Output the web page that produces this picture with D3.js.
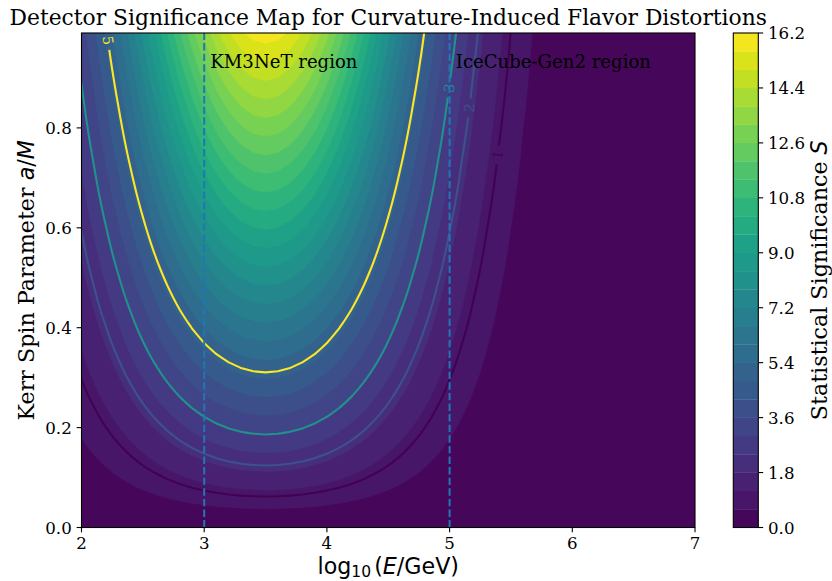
<!DOCTYPE html>
<html><head><meta charset="utf-8">
<script src="https://cdn.jsdelivr.net/npm/d3@7"></script>
<style>body{margin:0;background:#fff}svg{display:block}</style>
</head><body>
<svg id="chart" width="832" height="581"></svg>
<script>
// ---------------- data ----------------
const logE = [2.0,2.1,2.2,2.3,2.4,2.5,2.6,2.7,2.8,2.9,3.0,3.1,3.2,3.3,3.4,3.5,3.6,3.7,3.8,3.9,4.0,4.1,4.2,4.3,4.4,4.5,4.6,4.7,4.8,4.9,5.0,5.1,5.2,5.3,5.4,5.5,5.6,5.7,5.8,5.9,6.0,6.1,6.2,6.3,6.4,6.5,6.6,6.7,6.8,6.9,7.0];
const energyResponse = [0.2096,0.2564,0.3093,0.3679,0.4316,0.4994,0.5698,0.6412,0.7116,0.7788,0.8406,0.8948,0.9394,0.9726,0.9931,1.0,0.9931,0.9726,0.9394,0.8948,0.8406,0.7788,0.7116,0.6412,0.5698,0.4994,0.4316,0.3679,0.3093,0.2564,0.2096,0.1690,0.1344,0.1054,0.0815,0.0622,0.0468,0.0347,0.0254,0.0183,0.0130,0.0091,0.0063,0.0043,0.0029,0.0019,0.0013,0.0008,0.0005,0.0003,0.0002];
const peakSignificance = 16.1;       // S per unit spin at the response peak
const spinRange = [0, 0.99];
const fillLevels = [0,0.6,1.2,1.8,2.4,3.0,3.6,4.2,4.8,5.4,6.0,6.6,7.2,7.8,8.4,9.0,9.6,10.2,10.8,11.4,12.0,12.6,13.2,13.8,14.4,15.0,15.6,16.2];
const lineLevels = [1,2,3,5];
const lineLabelSpin = [0.746,0.84,0.88,0.975];
const lineLabelSide = ["right","right","right","left"];
const colorbarTicks = [0,1.8,3.6,5.4,7.2,9.0,10.8,12.6,14.4,16.2];
const xTicks = [2,3,4,5,6,7];
const yTicks = [0,0.2,0.4,0.6,0.8];
const detectorEdges = [3,5];
const detectorNames = ["KM3NeT region","IceCube-Gen2 region"];
const detectorLabelPos = [[3.05,0.92],[5.05,0.92]];
const titleText = "Detector Significance Map for Curvature-Induced Flavor Distortions";

// ---------------- layout ----------------
const P = {left:81.5, right:695, top:33, bottom:527.5};
const CB = {left:733.3, right:758.3};
const SERIF = "'DejaVu Serif', serif", SANS = "'DejaVu Sans', sans-serif";
const TICK_FS = 16.67, LABEL_FS = 22.2, TITLE_FS = 21.8, NOTE_FS = 18.1, CLABEL_FS = 13.9;
const TL = 4.86;

const x = d3.scaleLinear([2,7],[P.left,P.right]);
const y = d3.scaleLinear(spinRange,[P.bottom,P.top]);
const cy = d3.scaleLinear([fillLevels[0], fillLevels[fillLevels.length-1]],[P.bottom,P.top]);
const nBands = fillLevels.length-1;
const bandColor = i => d3.interpolateViridis((i+0.5)/nBands);
const lineColor = d3.scaleSequential(d3.interpolateViridis).domain([lineLevels[0], lineLevels[lineLevels.length-1]]);

// ---------------- grid (padded by edge replication) ----------------
const spin = d3.range(100).map(i => +(i*0.01).toFixed(2));
const nx = logE.length, ny = spin.length, W = nx+2, H = ny+2;
const values = new Array(W*H);
for (let r=0;r<H;r++){
  const i = Math.min(ny-1, Math.max(0, r-1));
  for (let c=0;c<W;c++){
    const j = Math.min(nx-1, Math.max(0, c-1));
    values[r*W+c] = peakSignificance*spin[i]*energyResponse[j];
  }
}
// calibrate d3.contours sample offset
const probe = d3.contours().size([2,1]).thresholds([0.5])([0,1]);
let probeMin = Infinity;
probe[0].coordinates.forEach(poly=>poly.forEach(ring=>ring.forEach(p=>{ if(p[0]>0.01) probeMin=Math.min(probeMin,p[0]); })));
const off = probeMin - 0.5;
const gx = d3.scaleLinear([1+off, nx+off],[logE[0], logE[nx-1]]);
const gy = d3.scaleLinear([1+off, ny+off],[spin[0], spin[ny-1]]);
const toPx = (p) => [x(gx(p[0])), y(gy(p[1]))];
const proj = d3.geoTransform({point(px,py){ const q=toPx([px,py]); this.stream.point(q[0],q[1]); }});
const path = d3.geoPath(proj);

// ---------------- svg ----------------
const svg = d3.select("#chart");
const defs = svg.append("defs");
defs.append("clipPath").attr("id","plotClip").append("rect")
  .attr("x",P.left).attr("y",P.top).attr("width",P.right-P.left).attr("height",P.bottom-P.top);
const mask = defs.append("mask").attr("id","labelMask").attr("maskUnits","userSpaceOnUse")
  .attr("x",0).attr("y",0).attr("width",832).attr("height",581);
mask.append("rect").attr("x",0).attr("y",0).attr("width",832).attr("height",581).attr("fill","white");

const plot = svg.append("g").attr("clip-path","url(#plotClip)");
plot.append("rect").attr("x",P.left).attr("y",P.top).attr("width",P.right-P.left).attr("height",P.bottom-P.top).attr("fill",bandColor(0));

const bands = d3.contours().size([W,H]).thresholds(fillLevels.slice(0,-1))(values);
plot.append("g").selectAll("path").data(bands).join("path")
  .attr("d",path).attr("fill",(d,i)=>bandColor(i)).attr("stroke",(d,i)=>bandColor(i)).attr("stroke-width",0.3);

const lines = d3.contours().size([W,H]).thresholds(lineLevels)(values);
plot.append("g").attr("mask","url(#labelMask)").selectAll("path").data(lines).join("path")
  .attr("d",path).attr("fill","none").attr("stroke",d=>lineColor(d.value)).attr("stroke-width",2.1);

// contour labels
function crossing(contour, yT, side){
  const xc = x(3.5);
  let best = null;
  contour.coordinates.forEach(poly=>poly.forEach(ring=>{
    for (let k=0;k<ring.length-1;k++){
      const p = toPx(ring[k]), q = toPx(ring[k+1]);
      if ((p[1]-yT)*(q[1]-yT) <= 0 && p[1]!==q[1]){
        const t = (yT-p[1])/(q[1]-p[1]);
        const xx = p[0]+t*(q[0]-p[0]);
        if (xx < P.left || xx > P.right) continue;
        if ((side==="left" && xx < xc) || (side==="right" && xx > xc)){
          if (best===null || (side==="left"? xx<best : xx>best)) best = xx;
        }
      }
    }
  }));
  return best;
}
const labelG = svg.append("g");
lines.forEach((ct,k)=>{
  const yT = y(lineLabelSpin[k]);
  const x0 = crossing(ct, yT, lineLabelSide[k]);
  const xa = crossing(ct, yT-6, lineLabelSide[k]);
  const xb = crossing(ct, yT+6, lineLabelSide[k]);
  let ang = Math.atan2(12, xb-xa)*180/Math.PI;
  if (ang > 90) ang -= 180;
  if (ang <= -90) ang += 180;
  const t = labelG.append("text")
    .attr("transform",`translate(${x0},${yT}) rotate(${ang})`)
    .attr("text-anchor","middle").attr("dy","0.36em")
    .attr("font-family",SERIF).attr("font-size",CLABEL_FS)
    .attr("fill",lineColor(ct.value)).text(String(ct.value));
  const w = t.node().getComputedTextLength() + 10;
  mask.append("rect").attr("x",-w/2).attr("y",-7).attr("width",w).attr("height",14)
    .attr("transform",`translate(${x0},${yT}) rotate(${ang})`).attr("fill","black");
});

// detector lines
svg.append("g").selectAll("line").data(detectorEdges).join("line")
  .attr("x1",d=>x(d)).attr("x2",d=>x(d)).attr("y1",y(spinRange[0])).attr("y2",y(spinRange[1]))
  .attr("stroke","#1f77b4").attr("stroke-width",2).attr("stroke-dasharray","7.4 3.2");
svg.append("g").selectAll("text").data(detectorNames).join("text")
  .attr("x",(d,i)=>x(detectorLabelPos[i][0])).attr("y",(d,i)=>y(detectorLabelPos[i][1]))
  .attr("font-family",SERIF).attr("font-size",NOTE_FS).attr("fill","#000").text(d=>d);

// spines
svg.append("rect").attr("x",P.left).attr("y",P.top).attr("width",P.right-P.left).attr("height",P.bottom-P.top)
  .attr("fill","none").attr("stroke","#000").attr("stroke-width",1.1);

// x axis
const xa = svg.append("g");
xTicks.forEach(v=>{
  xa.append("line").attr("x1",x(v)).attr("x2",x(v)).attr("y1",P.bottom).attr("y2",P.bottom+TL).attr("stroke","#000").attr("stroke-width",1.1);
  xa.append("text").attr("x",x(v)).attr("y",548.5).attr("text-anchor","middle")
    .attr("font-family",SERIF).attr("font-size",TICK_FS).text(String(v));
});
// y axis
const ya = svg.append("g");
yTicks.forEach(v=>{
  ya.append("line").attr("x1",P.left-TL).attr("x2",P.left).attr("y1",y(v)).attr("y2",y(v)).attr("stroke","#000").attr("stroke-width",1.1);
  ya.append("text").attr("x",P.left-TL-4.86).attr("y",y(v)).attr("dy","0.36em").attr("text-anchor","end")
    .attr("font-family",SERIF).attr("font-size",TICK_FS).text(v.toFixed(1));
});

// x label
const xl = svg.append("text").attr("x",(P.left+P.right)/2).attr("y",573.8).attr("text-anchor","middle")
  .attr("font-family",SANS).attr("font-size",LABEL_FS);
xl.append("tspan").text("log");
xl.append("tspan").attr("font-size",LABEL_FS*0.7).attr("dy",3.4).text("10");
xl.append("tspan").attr("dy",-3.4).attr("dx",3).text("(");
xl.append("tspan").attr("font-style","italic").text("E");
xl.append("tspan").text("/GeV)");

// y label
const yl = svg.append("text").attr("transform",`translate(33.5,${(P.top+P.bottom)/2}) rotate(-90)`)
  .attr("text-anchor","middle").attr("font-size",LABEL_FS);
yl.append("tspan").attr("font-family",SERIF).text("Kerr Spin Parameter ");
yl.append("tspan").attr("font-family",SANS).attr("font-style","italic").text("a");
yl.append("tspan").attr("font-family",SANS).text("/");
yl.append("tspan").attr("font-family",SANS).attr("font-style","italic").text("M");

// title
svg.append("text").attr("x",(P.left+P.right)/2).attr("y",24.7).attr("text-anchor","middle")
  .attr("font-family",SERIF).attr("font-size",TITLE_FS).text(titleText);

// colorbar
const cb = svg.append("g");
cb.selectAll("rect.band").data(d3.range(nBands)).join("rect").attr("class","band")
  .attr("x",CB.left).attr("width",CB.right-CB.left)
  .attr("y",i=>cy(fillLevels[i+1])).attr("height",i=>cy(fillLevels[i])-cy(fillLevels[i+1])+0.3)
  .attr("fill",i=>bandColor(i));
cb.append("rect").attr("x",CB.left).attr("y",P.top).attr("width",CB.right-CB.left).attr("height",P.bottom-P.top)
  .attr("fill","none").attr("stroke","#000").attr("stroke-width",1.1);
colorbarTicks.forEach(v=>{
  cb.append("line").attr("x1",CB.right).attr("x2",CB.right+TL).attr("y1",cy(v)).attr("y2",cy(v)).attr("stroke","#000").attr("stroke-width",1.1);
  cb.append("text").attr("x",CB.right+TL+4.86).attr("y",cy(v)).attr("dy","0.36em")
    .attr("font-family",SERIF).attr("font-size",TICK_FS).text(v.toFixed(1));
});
const cl = svg.append("text").attr("transform",`translate(827,${(P.top+P.bottom)/2}) rotate(-90)`)
  .attr("text-anchor","middle").attr("font-size",LABEL_FS);
cl.append("tspan").attr("font-family",SERIF).text("Statistical Significance ");
cl.append("tspan").attr("font-family",SANS).attr("font-style","italic").text("S");
</script>
</body></html>
